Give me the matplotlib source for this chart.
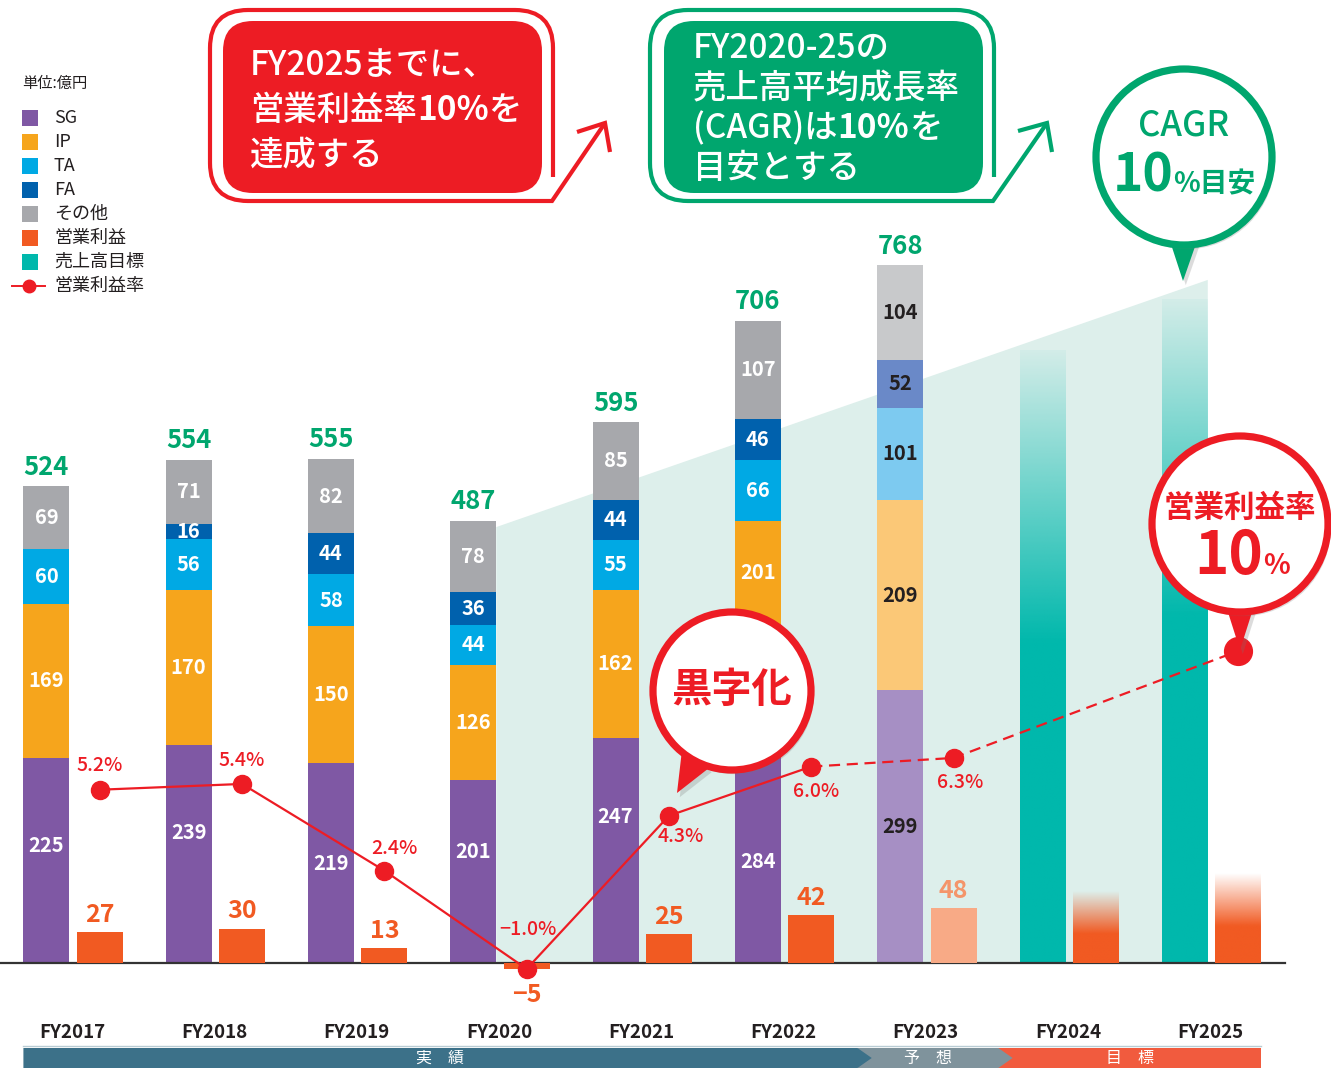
import numpy as np
import matplotlib
matplotlib.use("Agg")
import matplotlib.pyplot as plt
import matplotlib.transforms as mtransforms
import matplotlib.patheffects as pe
from matplotlib.colors import to_rgb
from matplotlib.patches import Rectangle, Circle, Polygon, FancyBboxPatch, PathPatch
from matplotlib.path import Path

plt.rcParams["font.family"] = ["Noto Sans CJK JP", "DejaVu Sans"]

W, H = 1331, 1069

# ---- data (億円) ----
years = ["FY2017", "FY2018", "FY2019", "FY2020", "FY2021", "FY2022", "FY2023", "FY2024", "FY2025"]
seg_names = ["SG", "IP", "TA", "FA", "その他"]
sg = [225, 239, 219, 201, 247, 284, 299]
ip = [169, 170, 150, 126, 162, 201, 209]
ta = [60, 56, 58, 44, 55, 66, 101]
fa = [0, 16, 44, 36, 44, 46, 52]
other = [69, 71, 82, 78, 85, 107, 104]
sales_total = [524, 554, 555, 487, 595, 706, 768]
op_profit = [27, 30, 13, -5, 25, 42, 48]
target_sales = [672, 728]          # FY2024, FY2025 (売上高目標)
target_op = [62, 78]               # FY2024, FY2025 (営業利益 目標)
margin = [5.2, 5.4, 2.4, -1.0, 4.3, 6.0, 6.3, 10.0]
margin_idx = [0, 1, 2, 3, 4, 5, 6, 8]
margin_labels = ["5.2%", "5.4%", "2.4%", "\u22121.0%", "4.3%", "6.0%", "6.3%", None]
cagr_band = [478, 749]             # FY2020 -> FY2025 guide
periods = [("実　績", 0, 6), ("予　想", 6, 7), ("目　標", 7, 9)]
legend_labels = ["SG", "IP", "TA", "FA", "その他", "営業利益", "売上高目標", "営業利益率"]

# ---- colours ----
seg_col = ["#7f58a4", "#f6a51c", "#00a9e4", "#0061ad", "#a7a8ac"]
seg_col_fc = ["#a68fc4", "#fbc877", "#7dcaf0", "#6a89c8", "#c8c9cb"]
OP = "#f15a22"
OP_FC = "#f8aa86"
TEAL = "#00b8ac"
AREA = "#ddefeb"
GREEN = "#00a66e"
RED = "#ed1c24"
DARK = "#231f20"

# label anchor inside a segment (fraction of its height), where the artwork
# moves it off-centre to dodge the margin line / bubble
label_frac = {(0, 0): 0.575, (0, 1): 0.60, (0, 3): 0.61, (0, 4): 0.65,
              (0, 5): 0.39, (1, 5): 0.72}

fig = plt.figure(figsize=(W / 100, H / 100), dpi=100)
ax = fig.add_axes([0, 0, 1, 1])          # sales
ax.axis("off")
axo = fig.add_axes([0, 0, 1, 1], sharex=ax)   # operating profit (own scale)
axo.axis("off")
axo.patch.set_visible(False)
ax2 = fig.add_axes([0, 0, 1, 1], sharex=ax)   # margin + decoration
ax2.axis("off")
ax2.patch.set_visible(False)

# pixel transform for decoration (origin top-left)
pix = mtransforms.Affine2D().scale(1 / W, -1 / H).translate(0, 1) + fig.transFigure
xpix = mtransforms.blended_transform_factory(ax.transData, pix)

xs = np.arange(len(years))
w = 0.323
sales_x = xs - 0.18
op_x = xs + 0.195

# light CAGR band
x0 = sales_x[3] + w / 2
x1 = sales_x[8] + w / 2
ax.add_patch(Polygon([(x0, 0), (x0, cagr_band[0]), (x1, cagr_band[1]), (x1, 0)],
                     closed=True, facecolor=AREA, edgecolor="none", zorder=0))

# stacked sales bars
segs = [sg, ip, ta, fa, other]
bottom = np.zeros(7)
for k, vals in enumerate(segs):
    cols = [seg_col[k]] * 6 + [seg_col_fc[k]]
    ax.bar(sales_x[:7], vals, w, bottom=bottom, color=cols, zorder=2)
    for i, v in enumerate(vals):
        if v:
            f = label_frac.get((k, i), 0.5)
            ax.text(sales_x[i], bottom[i] + v * f, str(v), ha="center", va="center",
                    fontsize=14.5, fontweight="bold",
                    color="white" if i < 6 else DARK, zorder=3)
    bottom += np.array(vals)
for i, t in enumerate(sales_total):
    ax.annotate(str(t), (sales_x[i], bottom[i]), xytext=(0, 19), textcoords="offset pixels",
                ha="center", va="center", fontsize=18.5, fontweight="bold", color=GREEN, zorder=3)


def grad_bar(a, x, h, color, a0, slope):
    n = 256
    frac = np.linspace(0, 1, n)
    img = np.zeros((n, 1, 4))
    img[..., :3] = to_rgb(color)
    img[:, 0, 3] = np.clip(a0 + slope * (1 - frac), 0, 1)
    a.imshow(img, extent=(x - w / 2, x + w / 2, 0, h), origin="lower", aspect="auto",
             interpolation="bilinear", zorder=2)


for j, s in enumerate(target_sales):
    grad_bar(ax, sales_x[7 + j], s, TEAL, 0.05, 2.0)

# operating profit bars
axo.bar(op_x[:7], op_profit, w, color=[OP] * 6 + [OP_FC], zorder=2)
for i, v in enumerate(op_profit):
    dy = 17 if v >= 0 else -26
    axo.annotate(str(v).replace("-", "\u2212"), (op_x[i], v),
                 xytext=(0, dy), textcoords="offset pixels", ha="center", va="center",
                 fontsize=18, fontweight="bold", color=OP if i < 6 else "#f4956a", zorder=3)
for j, o in enumerate(target_op):
    grad_bar(axo, op_x[7 + j], o, OP, 0.0, 1.7)

ax.axhline(0, xmin=0, xmax=1285 / W, color="#333333", lw=1.6, zorder=3)

# operating margin line (own scale)
mx = op_x[margin_idx]
ax2.plot(mx[:6], margin[:6], color=RED, lw=1.6, zorder=4)
ax2.plot(mx[5:], margin[5:], color=RED, lw=1.6, ls=(0, (5, 3)), zorder=4)
ax2.plot(mx[:7], margin[:7], "o", color=RED, ms=13, zorder=5)
ax2.plot(mx[7:], margin[7:], "o", color=RED, ms=20, zorder=5)
offs = [(0, 24), (0, 23), (10, 22), (1, 39), (12, -21), (5, -25), (7, -25)]
for i, lab in enumerate(margin_labels):
    if lab:
        ax2.annotate(lab, (mx[i], margin[i]), xytext=offs[i], textcoords="offset pixels",
                     ha="center", va="center", fontsize=14, fontweight="medium", color=RED, zorder=6)

# x labels
for i, y in enumerate(years):
    ax.text(xs[i], 1032, y, transform=xpix, ha="center", va="center",
            fontsize=13.5, fontweight="bold", color=DARK)

# period band
band_l = sales_x[0] - w / 2
band_r = op_x[8] + w / 2
yt, yb = 1048, 1068
tip = 0.1
pcols = ["#3c7189", "#7f939c", "#f15b3e"]
bounds = [band_l, 5.52, 6.51, band_r]
for k in [2, 1, 0]:
    a, b = bounds[k], bounds[k + 1]
    if k < 2:
        pts = [(a, yt), (b, yt), (b + tip, (yt + yb) / 2), (b, yb), (a, yb)]
    else:
        pts = [(a, yt), (b, yt), (b, yb), (a, yb)]
    ax.add_patch(Polygon(pts, closed=True, transform=xpix, facecolor=pcols[k],
                         edgecolor="none", zorder=3, clip_on=False))
    ax.text((a + b) / 2, (yt + yb) / 2, periods[k][0], transform=xpix, ha="center",
            va="center", fontsize=11.5, color="white", zorder=4)
ax.plot([band_l, band_r], [1046, 1046], transform=xpix, color="#b9ccd4", lw=1, zorder=3)

# ---- legend ----
ax2.text(22, 83, "単位:億円", transform=pix, ha="left", va="center", fontsize=11, color=DARK)
leg_cols = seg_col + [OP, TEAL]
for k, lab in enumerate(legend_labels):
    yc = 118 + 24 * k
    if k < 7:
        ax2.add_patch(Rectangle((22, yc - 8), 16, 16, transform=pix, facecolor=leg_cols[k],
                                edgecolor="none", clip_on=False))
    else:
        ax2.plot([12, 45], [yc, yc], transform=pix, color=RED, lw=1.4)
        ax2.plot([29], [yc], "o", transform=pix, color=RED, ms=9)
    ax2.text(54, yc, lab, transform=pix, ha="left", va="center", fontsize=13, color=DARK)

renderer = fig.canvas.get_renderer()


def rich(x, y, parts, color, ha="left", z=12):
    texts = []
    for s, size, weight in parts:
        texts.append(ax2.text(0, y, s, transform=pix, fontsize=size, fontweight=weight,
                              color=color, ha="left", va="baseline", zorder=z))
    widths = [t.get_window_extent(renderer).width for t in texts]
    cx = x - sum(widths) / 2 if ha == "center" else x
    for t, wd in zip(texts, widths):
        t.set_x(cx)
        cx += wd


def callout(L, T, R, B, r, right_end, bot_end, tipp, arm1, arm2, color, inner, lines, base, tx):
    verts = [(R, right_end), (R, T + r), (R, T), (R - r, T), (L + r, T), (L, T), (L, T + r),
             (L, B - r), (L, B), (L + r, B), (bot_end, B), tipp]
    codes = [Path.MOVETO, Path.LINETO, Path.CURVE3, Path.CURVE3, Path.LINETO, Path.CURVE3,
             Path.CURVE3, Path.LINETO, Path.CURVE3, Path.CURVE3, Path.LINETO, Path.LINETO]
    ax2.add_patch(PathPatch(Path(verts, codes), transform=pix, facecolor="none", edgecolor=color,
                            lw=3.0, joinstyle="miter", capstyle="butt", zorder=10, clip_on=False))
    ax2.add_patch(PathPatch(Path([arm1, tipp, arm2], [Path.MOVETO, Path.LINETO, Path.LINETO]),
                            transform=pix, facecolor="none", edgecolor=color, lw=3.0,
                            joinstyle="miter", zorder=10, clip_on=False))
    ix0, iy0, ix1, iy1 = inner
    ax2.add_patch(FancyBboxPatch((ix0, iy0), ix1 - ix0, iy1 - iy0,
                                 boxstyle="round,pad=0,rounding_size=30", transform=pix,
                                 facecolor=color, edgecolor="none", zorder=10, clip_on=False))
    for parts, yb_ in zip(lines, base):
        rich(tx, yb_, parts, "white")


M, B_ = "medium", "bold"
callout(210, 10, 553, 201, 38, 177, 552, (605, 123), (577, 132), (610, 152), RED,
        (223, 21, 542, 193),
        [[("FY2025までに、", 24, M)],
         [("営業利益率", 24, M), ("10%", 24, B_), ("を", 24, M)],
         [("達成する", 24, M)]],
        [75, 120, 164], 250)
callout(650, 10, 994, 201, 38, 177, 993, (1047, 123), (1018, 131), (1052, 152), GREEN,
        (664, 21, 983, 193),
        [[("FY2020-25の", 24, M)],
         [("売上高平均成長率", 24, M)],
         [("(CAGR)は", 24, M), ("10%", 24, B_), ("を", 24, M)],
         [("目安とする", 24, M)]],
        [58, 98, 138, 178], 693)

shadow = [pe.withSimplePatchShadow(offset=(2, -3), shadow_rgbFace="#777777", alpha=0.25)]


def bubble(cx, cy, r, color, tri):
    ax2.add_patch(Polygon(tri, closed=True, transform=pix, facecolor=color, edgecolor="none",
                          zorder=9, clip_on=False, path_effects=shadow))
    ax2.add_patch(Circle((cx, cy), r, transform=pix, facecolor="white", edgecolor=color,
                         lw=5.2, zorder=9, clip_on=False, path_effects=shadow))


# CAGR bubble
bubble(1184, 157, 88, GREEN, [(1169, 238), (1198, 238), (1183, 281)])
ax2.text(1184, 126, "CAGR", transform=pix, ha="center", va="center", fontsize=25,
         fontweight="medium", color=GREEN, zorder=12)
rich(1184, 192, [("10", 37, B_), ("%目安", 20, B_)], GREEN, ha="center")

# 黒字化 bubble
bubble(732, 691, 79, RED, [(682, 750), (709, 768), (677, 793)])
ax2.text(732, 690, "黒字化", transform=pix, ha="center", va="center", fontsize=29,
         fontweight="bold", color=RED, zorder=12)

# 営業利益率10% bubble
bubble(1240, 524, 88, RED, [(1226, 606), (1254, 606), (1240, 650)])
ax2.text(1240, 508, "営業利益率", transform=pix, ha="center", va="center", fontsize=22,
         fontweight="bold", color=RED, zorder=12)
rich(1242, 574, [("10", 42, B_), ("%", 20, B_)], RED, ha="center")

# scales: sales 0.912 px/億円 and operating profit 1.15 px/億円, both with
# baseline at px 963; margin 28.9 px/% with 0% at px 940
ax.set_xlim(-72 / 142.3, (W - 72) / 142.3)
ax.set_ylim(-(H - 963) / 0.912, 963 / 0.912)
axo.set_ylim(-(H - 963) / 1.15, 963 / 1.15)
ax2.set_ylim((940 - H) / 28.9, 940 / 28.9)

fig.savefig("out.png", dpi=100, facecolor="white")
